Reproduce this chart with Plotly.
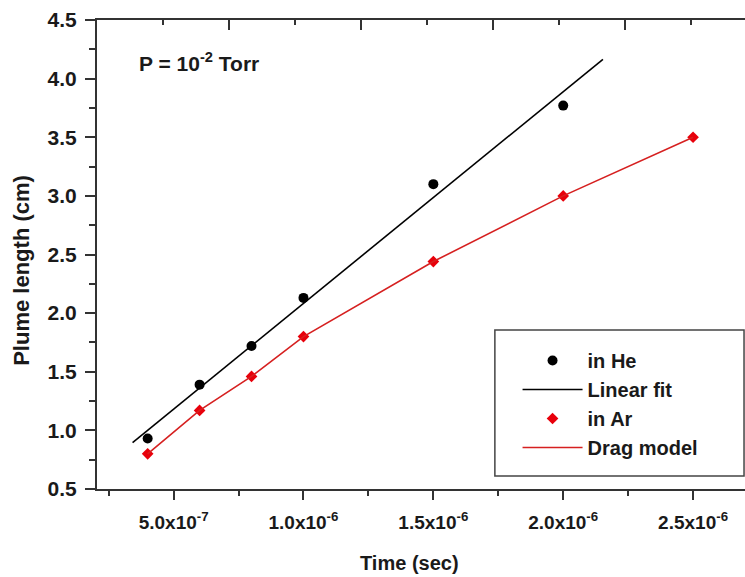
import plotly.graph_objects as go

# ---- data ----
time_he = [4e-7, 6e-7, 8e-7, 1.0e-6, 1.5e-6, 2.0e-6]
len_he = [0.93, 1.39, 1.72, 2.13, 3.10, 3.77]

fit_time = [3.42e-7, 2.153e-6]
fit_len = [0.895, 4.165]

time_ar = [4e-7, 6e-7, 8e-7, 1.0e-6, 1.5e-6, 2.0e-6, 2.5e-6]
len_ar = [0.80, 1.17, 1.46, 1.80, 2.44, 3.00, 3.50]

drag_time = time_ar
drag_len = len_ar

xtick_vals = [5e-7, 1.0e-6, 1.5e-6, 2.0e-6, 2.5e-6]
xtick_text = ["5.0x10<sup>-7</sup>", "1.0x10<sup>-6</sup>", "1.5x10<sup>-6</sup>",
              "2.0x10<sup>-6</sup>", "2.5x10<sup>-6</sup>"]
ytick_vals = [0.5, 1.0, 1.5, 2.0, 2.5, 3.0, 3.5, 4.0, 4.5]
ytick_text = ["0.5", "1.0", "1.5", "2.0", "2.5", "3.0", "3.5", "4.0", "4.5"]

FONT = "Liberation Sans, Arial, sans-serif"
INK = "#1a1a1a"
AX = "#333333"

fig = go.Figure()
fig.add_trace(go.Scatter(x=time_he, y=len_he, mode="markers", name="in He",
                         marker=dict(symbol="circle", size=10, color="black")))
fig.add_trace(go.Scatter(x=fit_time, y=fit_len, mode="lines", name="Linear fit",
                         line=dict(color="black", width=1.6)))
fig.add_trace(go.Scatter(x=time_ar, y=len_ar, mode="markers", name="in Ar",
                         marker=dict(symbol="diamond", size=9, color="#e8000b")))
fig.add_trace(go.Scatter(x=drag_time, y=drag_len, mode="lines", name="Drag model",
                         line=dict(color="#d62020", width=1.6)))

# invisible trace to activate the top axis
fig.add_trace(go.Scatter(x=[1e-7], y=[0.5], xaxis="x2", mode="markers",
                         marker=dict(opacity=0), showlegend=False, hoverinfo="skip"))

fig.update_layout(
    width=745, height=577,
    margin=dict(l=97, r=0, t=20, b=88),
    paper_bgcolor="white", plot_bgcolor="white",
    font=dict(family=FONT, color=INK, size=19),
    showlegend=True,
    legend=dict(x=0.649, y=0.3156, xanchor="left", yanchor="top",
                bgcolor="rgba(0,0,0,0)", borderwidth=0,
                itemwidth=60,
                font=dict(family=FONT, size=20, color=INK, weight="bold"),
                tracegroupgap=0),
    xaxis=dict(range=[2.05e-7, 2.70e-6], showgrid=False, zeroline=False,
               showline=True, linecolor=AX, linewidth=2, mirror=False,
               tickvals=xtick_vals, ticktext=xtick_text,
               ticks="outside", ticklen=9, tickwidth=1.5, tickcolor=AX,
               minor=dict(dtick=2.5e-7, tick0=0, ticks="outside", ticklen=5,
                          tickwidth=1.5, tickcolor=AX),
               tickfont=dict(family=FONT, size=19, color=INK, weight="bold"),
               ticklabelstandoff=6),
    xaxis2=dict(overlaying="x", side="top", range=[0, 2.4564e-6],
                showgrid=False, zeroline=False, showline=True, linecolor=AX,
                linewidth=2, dtick=5e-7, tick0=0, ticks="inside", ticklen=10,
                tickwidth=1.5, tickcolor=AX, showticklabels=False,
                minor=dict(dtick=2.5e-7, tick0=0, ticks="inside", ticklen=5,
                           tickwidth=1.5, tickcolor=AX)),
    yaxis=dict(range=[0.5, 4.5], showgrid=False, zeroline=False,
               showline=True, linecolor=AX, linewidth=2, mirror=False,
               tickvals=ytick_vals, ticktext=ytick_text,
               ticks="outside", ticklen=10, tickwidth=1.5, tickcolor=AX,
               minor=dict(dtick=0.25, tick0=0, ticks="outside", ticklen=6,
                          tickwidth=1.5, tickcolor=AX),
               tickfont=dict(family=FONT, size=21, color=INK, weight="bold"),
               ticklabelstandoff=4),
    shapes=[dict(type="rect", xref="paper", yref="paper",
                 x0=0.614, x1=0.9985, y0=0.0277, y1=0.339,
                 line=dict(color="#444444", width=1.5), fillcolor="rgba(0,0,0,0)")],
    annotations=[
        dict(text="P = 10<sup>-2</sup> Torr", xref="paper", yref="paper",
             x=0.062, y=0.91, xanchor="left", yanchor="middle", showarrow=False,
             font=dict(family=FONT, size=21, color=INK, weight="bold")),
        dict(text="Time (sec)", xref="paper", yref="paper",
             x=0.483, y=-0.158, xanchor="center", yanchor="middle", showarrow=False,
             font=dict(family=FONT, size=20, color=INK, weight="bold")),
        dict(text="Plume length (cm)", xref="paper", yref="paper", textangle=-90,
             x=-0.116, y=0.467, xanchor="center", yanchor="middle", showarrow=False,
             font=dict(family=FONT, size=22, color=INK, weight="bold")),
    ],
)

fig.write_html("out.html")
